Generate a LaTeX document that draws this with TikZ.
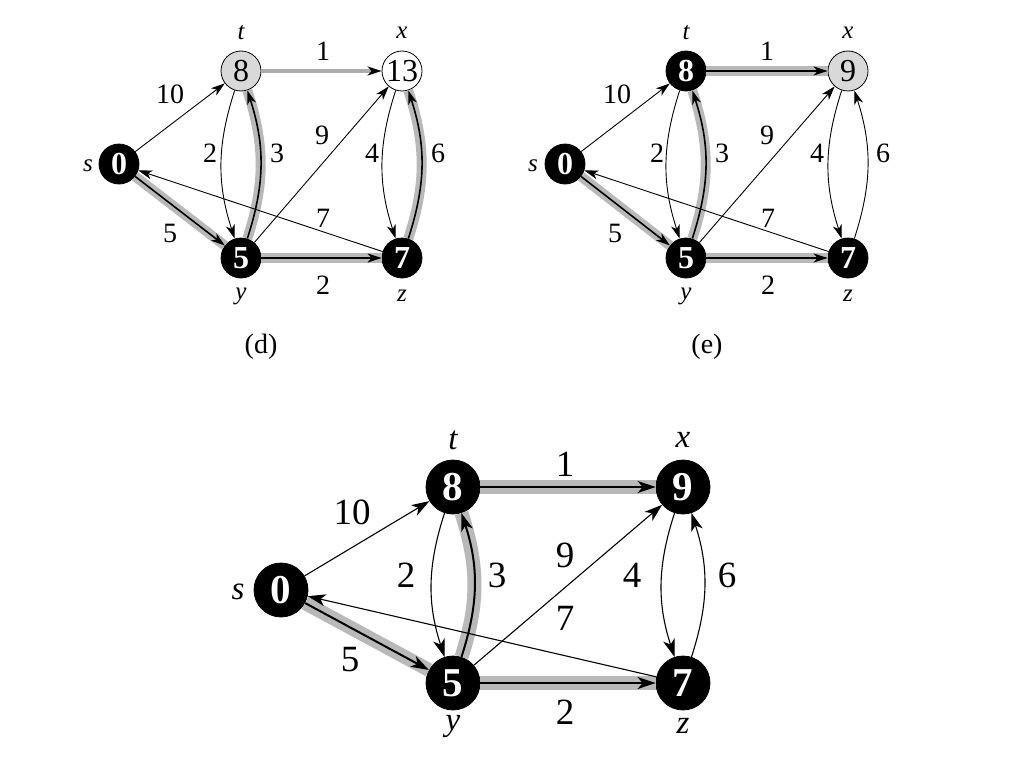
\documentclass[tikz,border=0pt]{standalone}
\usepackage{fontspec}
\setmainfont{Liberation Serif}
\usetikzlibrary{arrows.meta}

\tikzset{
  blk/.style={circle, draw=black, fill=black, text=white, line width=0.8pt, minimum size=40pt, inner sep=0pt, font=\bfseries\fontsize{32}{32}\selectfont},
  gry/.style={circle, draw=black, fill=gray!30, line width=0.8pt, minimum size=40pt, inner sep=0pt, font=\fontsize{32}{32}\selectfont},
  wht/.style={circle, draw=black, fill=white, line width=0.8pt, minimum size=40pt, inner sep=0pt, font=\fontsize{32}{32}\selectfont},
  lbl/.style={font=\itshape\fontsize{25}{25}\selectfont},
  wt/.style={font=\fontsize{28}{28}\selectfont},
  edge/.style={-{Stealth[length=14pt,width=9pt,inset=4pt]}, line width=0.9pt},
  shaded/.style={edge, line width=1.6pt, preaction={draw, gray!55, line width=10pt, -}},
  relaxed/.style={-{Stealth[length=14pt,width=9pt,inset=4pt,black]}, draw=gray!65, line width=4pt},
}

\begin{document}
\begin{tikzpicture}[x=1pt, y=-1pt]
\useasboundingbox (0,0) rectangle (1024,768);

% (d)
\node[blk] (ds) at (119,164) {0};
\node[gry] (dt) at (241,71) {8};
\node[wht] (dx) at (402,71) {13};
\node[blk] (dy) at (241,258) {5};
\node[blk] (dz) at (402,258) {7};

\draw[edge] (ds) -- (dt);
\draw[shaded] (ds) -- (dy);
\draw[relaxed] (dt) -- (dx);
\draw[edge] (dt) to[bend right=18] (dy);
\draw[shaded] (dy) to[bend right=18] (dt);
\draw[edge] (dy) -- (dx);
\draw[edge] (dx) to[bend right=18] (dz);
\draw[shaded] (dz) to[bend right=18] (dx);
\draw[shaded] (dy) -- (dz);
\draw[edge] (dz) -- (ds);

\node[lbl] (ds-l) at (88,166) {s};
\node[lbl] (dt-l) at (241,33) {t};
\node[lbl] (dx-l) at (402,33) {x};
\node[lbl] (dy-l) at (241,296) {y};
\node[lbl] (dz-l) at (402,296) {z};

\node[wt] (dw1) at (170,94) {10};
\node[wt] (dw2) at (323,51) {1};
\node[wt] (dw3) at (210,153) {2};
\node[wt] (dw4) at (277,153) {3};
\node[wt] (dw5) at (322,135) {9};
\node[wt] (dw6) at (372,153) {4};
\node[wt] (dw7) at (438,153) {6};
\node[wt] (dw8) at (323,218) {7};
\node[wt] (dw9) at (170,233) {5};
\node[wt] (dw10) at (323,285) {2};
\node[wt] (dcap) at (261,347) {(d)};

% (e)
\node[blk] (es) at (565,164) {0};
\node[blk] (et) at (686,71) {8};
\node[gry] (ex) at (848,71) {9};
\node[blk] (ey) at (686,258) {5};
\node[blk] (ez) at (848,258) {7};

\draw[edge] (es) -- (et);
\draw[shaded] (es) -- (ey);
\draw[shaded] (et) -- (ex);
\draw[edge] (et) to[bend right=18] (ey);
\draw[shaded] (ey) to[bend right=18] (et);
\draw[edge] (ey) -- (ex);
\draw[edge] (ex) to[bend right=18] (ez);
\draw[edge] (ez) to[bend right=18] (ex);
\draw[shaded] (ey) -- (ez);
\draw[edge] (ez) -- (es);

\node[lbl] (es-l) at (533,166) {s};
\node[lbl] (et-l) at (686,33) {t};
\node[lbl] (ex-l) at (848,33) {x};
\node[lbl] (ey-l) at (686,296) {y};
\node[lbl] (ez-l) at (848,296) {z};

\node[wt] (ew1) at (617,94) {10};
\node[wt] (ew2) at (767,51) {1};
\node[wt] (ew3) at (657,153) {2};
\node[wt] (ew4) at (722,153) {3};
\node[wt] (ew5) at (767,135) {9};
\node[wt] (ew6) at (817,153) {4};
\node[wt] (ew7) at (883,153) {6};
\node[wt] (ew8) at (768,218) {7};
\node[wt] (ew9) at (615,233) {5};
\node[wt] (ew10) at (768,285) {2};
\node[wt] (ecap) at (707,347) {(e)};

% (f), larger
\begin{scope}[
  blk/.style={circle, draw=black, fill=black, text=white, line width=0.8pt, minimum size=54pt, inner sep=0pt, font=\bfseries\fontsize{41}{41}\selectfont},
  lbl/.style={font=\itshape\fontsize{33}{33}\selectfont},
  wt/.style={font=\fontsize{37}{37}\selectfont},
  edge/.style={-{Stealth[length=18pt,width=12pt,inset=5pt]}, line width=1.1pt},
  shaded/.style={edge, line width=2pt, preaction={draw, gray!55, line width=14pt, -}}]
\node[blk] (fs) at (281,590) {0};
\node[blk] (ft) at (453,487) {8};
\node[blk] (fx) at (683,487) {9};
\node[blk] (fy) at (453,683) {5};
\node[blk] (fz) at (683,683) {7};

\draw[edge] (fs) -- (ft);
\draw[shaded] (fs) -- (fy);
\draw[shaded] (ft) -- (fx);
\draw[edge] (ft) to[bend right=18] (fy);
\draw[shaded] (fy) to[bend right=18] (ft);
\draw[edge] (fy) -- (fx);
\draw[edge] (fx) to[bend right=18] (fz);
\draw[edge] (fz) to[bend right=18] (fx);
\draw[shaded] (fy) -- (fz);
\draw[edge] (fz) -- (fs);

\node[lbl] (fs-l) at (238,592) {s};
\node[lbl] (ft-l) at (453,440) {t};
\node[lbl] (fx-l) at (683,440) {x};
\node[lbl] (fy-l) at (453,726) {y};
\node[lbl] (fz-l) at (683,726) {z};

\node[wt] (fw1) at (352,512) {10};
\node[wt] (fw2) at (565,464) {1};
\node[wt] (fw3) at (406,575) {2};
\node[wt] (fw4) at (497,575) {3};
\node[wt] (fw5) at (565,555) {9};
\node[wt] (fw6) at (632,575) {4};
\node[wt] (fw7) at (727,575) {6};
\node[wt] (fw8) at (565,618) {7};
\node[wt] (fw9) at (350,660) {5};
\node[wt] (fw10) at (565,712) {2};
\end{scope}
\end{tikzpicture}
\end{document}
